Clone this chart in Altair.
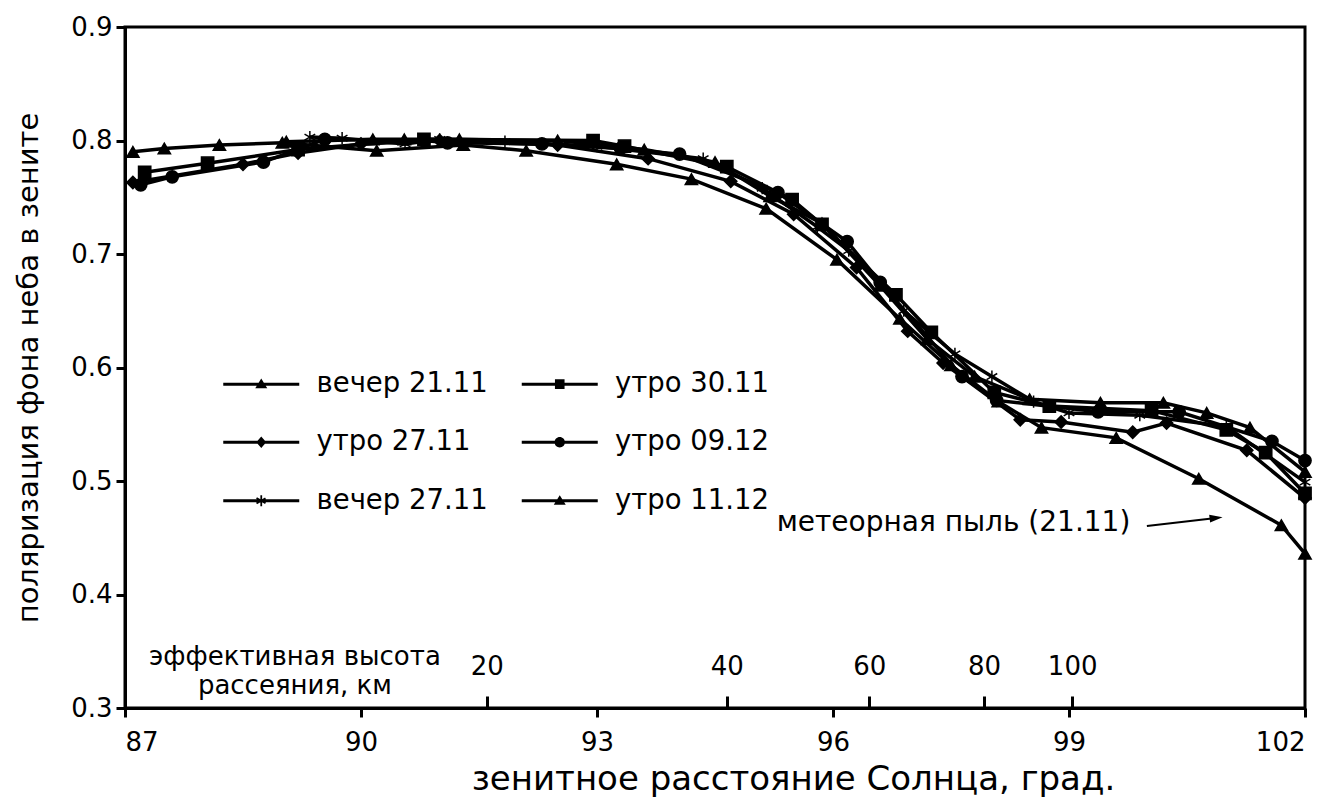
import altair as alt
import pandas as pd

# ---------------- data ----------------
names = ["вечер 21.11", "утро 30.11", "утро 27.11", "утро 09.12", "вечер 27.11", "утро 11.12"]

x_v2111 = [87.1, 87.5, 88.2, 89.0, 90.2, 91.3, 92.1, 93.25, 94.2, 95.15, 96.05, 96.85, 97.5, 98.1, 98.65, 99.6, 100.65, 101.7, 102.0]
y_v2111 = [0.790, 0.793, 0.796, 0.798, 0.791, 0.796, 0.791, 0.779, 0.766, 0.740, 0.695, 0.643, 0.602, 0.570, 0.547, 0.538, 0.502, 0.461, 0.436]

x_u3011 = [87.25, 88.05, 89.2, 90.8, 92.95, 93.35, 94.65, 95.48, 95.86, 96.8, 97.25, 98.05, 98.75, 100.05, 101.0, 101.5, 102.0]
y_u3011 = [0.772, 0.780, 0.792, 0.801, 0.800, 0.795, 0.777, 0.748, 0.726, 0.664, 0.631, 0.578, 0.566, 0.562, 0.545, 0.525, 0.489]

x_u2711 = [87.1, 88.5, 89.2, 90.0, 91.0, 92.5, 93.65, 94.7, 95.5, 96.3, 96.95, 97.4, 98.38, 98.9, 99.81, 100.24, 101.26, 102.0]
y_u2711 = [0.763, 0.779, 0.789, 0.797, 0.800, 0.796, 0.784, 0.764, 0.735, 0.688, 0.632, 0.604, 0.554, 0.552, 0.543, 0.551, 0.527, 0.485]

x_u0912 = [87.2, 87.6, 88.76, 89.54, 90.8, 91.1, 92.3, 93.3, 94.05, 95.3, 96.18, 96.6, 97.64, 98.08, 99.37, 100.4, 101.58, 102.0]
y_u0912 = [0.761, 0.768, 0.781, 0.801, 0.800, 0.798, 0.797, 0.793, 0.788, 0.754, 0.711, 0.675, 0.592, 0.571, 0.561, 0.561, 0.535, 0.518]

x_v2711 = [89.35, 89.76, 90.56, 91.0, 91.83, 93.0, 94.35, 95.1, 95.8, 96.2, 96.9, 97.55, 98.02, 98.55, 99.0, 99.9, 101.0, 102.0]
y_v2711 = [0.803, 0.802, 0.797, 0.801, 0.799, 0.795, 0.784, 0.758, 0.724, 0.703, 0.650, 0.612, 0.592, 0.570, 0.560, 0.558, 0.548, 0.499]

x_u1112 = [89.05, 90.15, 90.55, 91.25, 92.5, 93.6, 94.5, 95.2, 95.86, 96.6, 97.2, 97.8, 98.5, 99.4, 100.2, 100.75, 101.3, 102.0]
y_u1112 = [0.799, 0.801, 0.801, 0.801, 0.800, 0.792, 0.781, 0.751, 0.727, 0.672, 0.625, 0.592, 0.572, 0.569, 0.569, 0.560, 0.547, 0.508]

series_x = [x_v2111, x_u3011, x_u2711, x_u0912, x_v2711, x_u1112]
series_y = [y_v2111, y_u3011, y_u2711, y_u0912, y_v2711, y_u1112]

x_ticks = [87, 90, 93, 96, 99, 102]
y_ticks = [0.3, 0.4, 0.5, 0.6, 0.7, 0.8, 0.9]

# effective scattering height scale (km) and its position in zenith angle
height_km = [20, 40, 60, 80, 100]
height_pos = [91.6, 94.65, 96.46, 97.92, 99.04]

height_note = "эффективная высота\nрассеяния, км"
height_note_x = [89.16]
height_note_y = [0.3445]

dust_note = "метеорная пыль (21.11)"
dust_note_x = [99.78]
dust_note_y = [0.463]
arrow_x = [99.99]
arrow_x2 = [100.87]
arrow_y = [0.4604]
arrow_y2 = [0.4674]

# ---------------- tables ----------------
rows = []
for n, xs, ys in zip(names, series_x, series_y):
    for xv, yv in zip(xs, ys):
        rows.append({"series": n, "x": xv, "y": yv})
df = pd.DataFrame(rows)

hdf = pd.DataFrame({"x": height_pos, "km": height_km})
note_df = pd.DataFrame({"x": height_note_x, "y": height_note_y, "t": [height_note]})
dust_df = pd.DataFrame({"x": dust_note_x, "y": dust_note_y, "t": [dust_note]})
arrow_df = pd.DataFrame({"x": arrow_x, "x2": arrow_x2, "y": arrow_y, "y2": arrow_y2})
head_df = pd.DataFrame({"x": arrow_x2, "y": arrow_y2})

FONT = "DejaVu Sans"
FS = 26

ASTER = "M0,-1V1M-0.87,-0.5L0.87,0.5M-0.87,0.5L0.87,-0.5"
plot_shapes = ["triangle-up", "square", "diamond", "circle", ASTER, "triangle-up"]

# legend symbols: filled line segment + filled marker (all subpaths clockwise)
LINE = "M0,-0.375H19V0.375H0Z"
TRI = "M8.0,1.0L9.5,-1.4L11.0,1.0Z"
legend_shapes = [
    LINE + TRI,
    LINE + "M8.3,-1.2H10.7V1.2H8.3Z",
    LINE + "M9.5,-1.45L10.75,0L9.5,1.45L8.25,0Z",
    LINE + "M8.2,0A1.3,1.3 0 1,1 10.8,0A1.3,1.3 0 1,1 8.2,0Z",
    LINE + "M9.28,-1.35H9.72V1.35H9.28Z"
    + "M8.43,-0.87L10.67,0.42L10.45,0.8L8.21,-0.49Z"
    + "M8.43,0.87L8.21,0.49L10.45,-0.8L10.67,-0.42Z",
    LINE + TRI,
]

xscale = alt.Scale(domain=[87, 102], nice=False, zero=False)
yscale = alt.Scale(domain=[0.3, 0.9], nice=False, zero=False)

xaxis = alt.Axis(values=x_ticks, title="зенитное расстояние Солнца, град.", format="d",
                 tickSize=9, labelPadding=12, titlePadding=7, titleFontSize=34,
                 titleX=668, titleAlign="center", grid=False)
yaxis = alt.Axis(values=y_ticks, title="поляризация фона неба в зените", format=".1f",
                 tickSize=9, labelPadding=4, titlePadding=27, titleFontSize=29, grid=False)

Y = alt.Y("y:Q", scale=yscale, axis=yaxis)
X_none = alt.X("x:Q", scale=xscale, axis=None)

# label mapping for secondary axis
expr = "'" + str(height_km[-1]) + "'"
for i in range(len(height_pos) - 2, -1, -1):
    mid = (height_pos[i] + height_pos[i + 1]) / 2
    expr = f"datum.value < {mid:.3f} ? '{height_km[i]}' : ({expr})"

sec_axis = alt.Axis(orient="top", offset=-681, values=height_pos, labelExpr=expr,
                    domain=False, tickSize=12, labelPadding=17, title=None, grid=False)

lines = alt.Chart(df).mark_line(color="black", strokeWidth=3.5).encode(
    x=alt.X("x:Q", scale=xscale, axis=xaxis), y=Y, detail="series:N"
)

points = alt.Chart(df).mark_point(filled=True, size=150, color="black", stroke="black",
                                  strokeWidth=1.5, opacity=1).encode(
    x=X_none, y=Y,
    shape=alt.Shape("series:N", scale=alt.Scale(domain=names, range=plot_shapes), legend=None),
)

legend_layer = alt.Chart(df).transform_filter("false").mark_point(
    filled=True, color="black", opacity=1
).encode(
    x=X_none, y=Y,
    shape=alt.Shape("series:N", scale=alt.Scale(domain=names, range=legend_shapes),
                    legend=alt.Legend(orient="none", legendX=84.5, legendY=343, columns=2,
                                      direction="horizontal",
                                      title=None, labelFont=FONT, labelFontSize=27.5,
                                      labelColor="black", labelOffset=79.5, labelLimit=500,
                                      columnPadding=19.5, rowPadding=29.5, symbolSize=64,
                                      symbolStrokeWidth=3, symbolFillColor="black",
                                      symbolOpacity=1, padding=0)),
)

sec = alt.Chart(hdf).mark_point(opacity=0).encode(
    x=alt.X("x:Q", scale=xscale, axis=sec_axis), y=alt.value(0)
)

note = alt.Chart(note_df).mark_text(font=FONT, fontSize=FS, color="black", align="center",
                                    baseline="middle", lineBreak="\n", lineHeight=29).encode(
    x=X_none, y=Y, text="t:N"
)

dust = alt.Chart(dust_df).mark_text(font=FONT, fontSize=28, color="black", align="right",
                                    baseline="middle").encode(x=X_none, y=Y, text="t:N")

arrow = alt.Chart(arrow_df).mark_rule(color="black", strokeWidth=2).encode(
    x=X_none, x2="x2:Q", y=Y, y2="y2:Q"
)

head = alt.Chart(head_df).mark_point(shape="M-1,-0.6L1,0L-1,0.6Z", size=169, angle=353.4,
                                     filled=True, color="black", opacity=1).encode(x=X_none, y=Y)

chart = alt.layer(lines, points, legend_layer, sec, note, dust, arrow, head).resolve_scale(
    shape="independent"
).resolve_axis(x="independent").properties(
    width=1180, height=681,
    autosize=alt.AutoSizeParams(type="none"),
    padding={"left": 125, "top": 27, "right": 30, "bottom": 104},
    background="white",
).configure_view(stroke="black", strokeWidth=3).configure_axis(
    domainColor="black", domainWidth=3, tickColor="black", tickWidth=3,
    labelFont=FONT, labelFontSize=FS, labelColor="black",
    titleFont=FONT, titleColor="black", titleFontWeight="normal",
)

chart.save("out.html", embed_options={"renderer": "svg", "actions": False})
